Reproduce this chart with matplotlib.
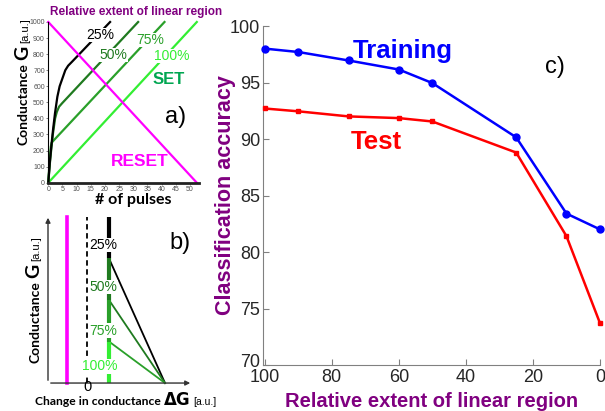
import matplotlib
matplotlib.use('Agg')
import matplotlib.pyplot as plt
from matplotlib.transforms import ScaledTranslation

# ---- data ----
# a) conductance vs number of pulses, one curve per linear-region extent
n_25 = [0, 0.5, 1, 1.66, 2.36, 3.2, 4, 5, 6, 7, 8.5, 21.8]
g_25 = [0, 120, 215, 328, 432, 535, 600, 650, 700, 728, 755, 1000]
n_50 = [0, 0.5, 1, 1.6, 2.4, 3, 3.8, 4.9, 31.7]
g_50 = [0, 110, 200, 300, 400, 440, 473, 495, 1000]
n_75 = [0, 0.3, 0.6, 0.9, 1.2, 41]
g_75 = [0, 90, 165, 225, 250, 1000]
n_100 = [0, 52.4]
g_100 = [0, 1000]
n_reset = [0, 52.4]
g_reset = [1000, 0]

# b) schematic: change in conductance vs conductance
levels = ['25%', '50%', '75%', '100%']
g_threshold = [750, 500, 250, 0]
g_max = 1000
dg_linear = 1.1
dg_reset = -1.0
dg_max = 3.9

# c) classification accuracy
extent = [100, 90, 75, 60, 50, 25, 10, 0]
acc_train = [98.0, 97.7, 96.95, 96.15, 94.95, 90.15, 83.4, 82.0]
acc_test = [92.7, 92.45, 92.0, 91.85, 91.55, 88.8, 81.4, 73.7]

W, H = 605, 411
plt.rcParams['font.family'] = ['Liberation Sans', 'DejaVu Sans']
fig = plt.figure(figsize=(W / 100, H / 100), dpi=100)

purple = '#800080'
magenta = '#ff00ff'
c25, c50, c75, c100 = 'black', '#1f7a1f', '#2aa02a', '#33ee33'
level_colors = [c25, c50, c75, c100]


def px_box(left, top, right, bottom):
    return [left / W, 1 - bottom / H, (right - left) / W, (bottom - top) / H]


def seq_text(x, y, pieces, vertical=False):
    # place text pieces one after another (x, y in pixels from bottom-left)
    r = fig.canvas.get_renderer()
    for s, size, weight, fam, gap in pieces:
        t = fig.text(x / W, y / H, s, fontsize=size, fontweight=weight, family=fam,
                     rotation=90 if vertical else 0, rotation_mode='anchor',
                     ha='left', va='baseline')
        bb = t.get_window_extent(r)
        if vertical:
            y += bb.height + gap
        else:
            x += bb.width + gap


# ---------------- panel a ----------------
ax_a = fig.add_axes(px_box(48.3, 22, 198.5, 182.7))
ax_a.plot(n_100, g_100, color=c100, lw=1.6, clip_on=False)
ax_a.plot(n_75, g_75, color=c75, lw=1.6, clip_on=False)
ax_a.plot(n_50, g_50, color=c50, lw=1.6, clip_on=False)
ax_a.plot(n_25, g_25, color=c25, lw=1.6, clip_on=False)
ax_a.plot(n_reset, g_reset, color=magenta, lw=1.6, clip_on=False)
ax_a.set_xlim(0, 53)
ax_a.set_ylim(0, 1000)
ax_a.set_xticks(range(0, 51, 5))
ax_a.set_yticks(range(0, 1001, 100))
ax_a.tick_params(labelsize=5, colors='#505050', length=1.5, width=0.5, pad=1)
for s in ['top', 'right']:
    ax_a.spines[s].set_visible(False)
ax_a.spines['bottom'].set_linewidth(2)
ax_a.spines['bottom'].set_color('#222222')
ax_a.spines['left'].set_linewidth(0.8)
wb = dict(fc='white', ec='none', pad=0.2)
ax_a.text(18.4, 918, '25%', color=c25, fontsize=10, ha='center', va='center', bbox=wb)
ax_a.text(23, 795, '50%', color=c50, fontsize=10, ha='center', va='center', bbox=wb)
ax_a.text(35.9, 888, '75%', color=c75, fontsize=10, ha='center', va='center', bbox=wb)
ax_a.text(43.5, 788, '100%', color=c100, fontsize=10, ha='center', va='center', bbox=wb)
ax_a.text(42.6, 645, 'SET', color='#00a651', fontsize=12, fontweight='bold', ha='center', va='center')
ax_a.text(45, 410, 'a)', color='black', fontsize=17, ha='center', va='center')
ax_a.text(32.2, 132, 'RESET', color=magenta, fontsize=12.5, fontweight='bold', ha='center', va='center')

fig.text(50 / W, 1 - 12 / H, 'Relative extent of linear region', color=purple,
         fontsize=8.5, fontweight='bold', va='center', ha='left')
fig.text(133 / W, 1 - 200 / H, '# of pulses', fontsize=11.5, fontweight='bold',
         family='Lato', ha='center', va='center')

# ---------------- panel b ----------------
ax_b = fig.add_axes(px_box(40, 205, 200, 395))
ax_b.set_xlim(-2.35, 5.65)
ax_b.set_ylim(-72, 1072)
ax_b.axis('off')
arrow = dict(arrowstyle='-|>', color='#333333', lw=1, mutation_scale=7)
ax_b.annotate('', xy=(5.3, 0), xytext=(-1.95, 0), arrowprops=arrow)
ax_b.annotate('', xy=(-1.95, 1012), xytext=(-1.95, 0), arrowprops=arrow)
ax_b.plot([dg_reset, dg_reset], [0, g_max], color=magenta, lw=2.6)
ax_b.plot([0, 0], [0, g_max], color='black', lw=1.3, ls=(0, (3, 2)))
top = g_max
for lab, thr, col in zip(levels, g_threshold, level_colors):
    ax_b.plot([dg_linear, dg_linear], [top, thr], color=col, lw=3, solid_capstyle='butt')
    if thr > 0:
        ax_b.plot([dg_linear, dg_max], [thr, 0], color=col, lw=1.3)
    top = thr
label_y = [831, 578, 316, 102]
label_x = [0.825, 0.825, 0.825, 0.625]
for lab, lx, ly, col in zip(levels, label_x, label_y, level_colors):
    ax_b.text(lx, ly, lab, color=col, fontsize=10, ha='center', va='center',
              bbox=dict(fc='white', ec='none', pad=0.3), zorder=5)
ax_b.text(0.0, -22, '0', fontsize=10.5, ha='center', va='center')
ax_b.text(4.65, 843, 'b)', fontsize=17, ha='center', va='center')

# ---------------- panel c ----------------
ax_c = fig.add_axes(px_box(263, 26, 600, 365))
ax_c.plot(extent, acc_train, color='#0000ff', lw=1.8, marker='o', ms=5, clip_on=False, zorder=3)
ax_c.plot(extent, acc_test, color='#ff0000', lw=1.8, marker='s', ms=3.5, clip_on=False, zorder=3)
ax_c.set_xlim(100.5, 0)
ax_c.set_ylim(70, 100)
ax_c.set_xticks(range(100, -1, -20))
ax_c.set_yticks(range(70, 101, 5))
for s in ['top', 'right']:
    ax_c.spines[s].set_visible(False)
for s in ['left', 'bottom']:
    ax_c.spines[s].set_color('#808080')
ax_c.tick_params(direction='in', length=4, colors='#808080', labelcolor='#262626',
                 labelsize=13, pad=2)
ax_c.tick_params(axis='x', pad=3)
# lift the bottom y label a little so it does not sit on the "100" x label
lbl70 = ax_c.get_yticklabels()[0]
lbl70.set_transform(lbl70.get_transform() + ScaledTranslation(0, 3 / 72, fig.dpi_scale_trans))
ax_c.set_ylabel('Classification accuracy', color=purple, fontsize=15.5, fontweight='bold', labelpad=-4)
ax_c.set_xlabel('Relative extent of linear region', color=purple, fontsize=14.5, fontweight='bold', labelpad=4)
ax_c.text(58.9, 97.8, 'Training', color='#0000ff', fontsize=18.5, fontweight='bold', ha='center', va='center')
ax_c.text(66.8, 89.75, 'Test', color='#ff0000', fontsize=18.5, fontweight='bold', ha='center', va='center')
ax_c.text(13.4, 96.36, 'c)', fontsize=17, ha='center', va='center')

# ---------------- mixed-size axis labels ----------------
lab_g = [('Conductance', 10, 'bold', 'Lato', 3), ('G', 14, 'bold', 'Lato', 3),
         ('[a.u.]', 8, 'normal', 'Liberation Sans', 0)]
seq_text(28, H - 145, lab_g, vertical=True)
seq_text(39, H - 363, lab_g, vertical=True)
seq_text(35, H - 405, [('Change in conductance', 8.7, 'bold', 'Lato', 3),
                       ('ΔG', 12, 'bold', 'DejaVu Sans', 3),
                       ('[a.u.]', 7.5, 'normal', 'Liberation Sans', 0)])

fig.savefig('out.png', dpi=100)
